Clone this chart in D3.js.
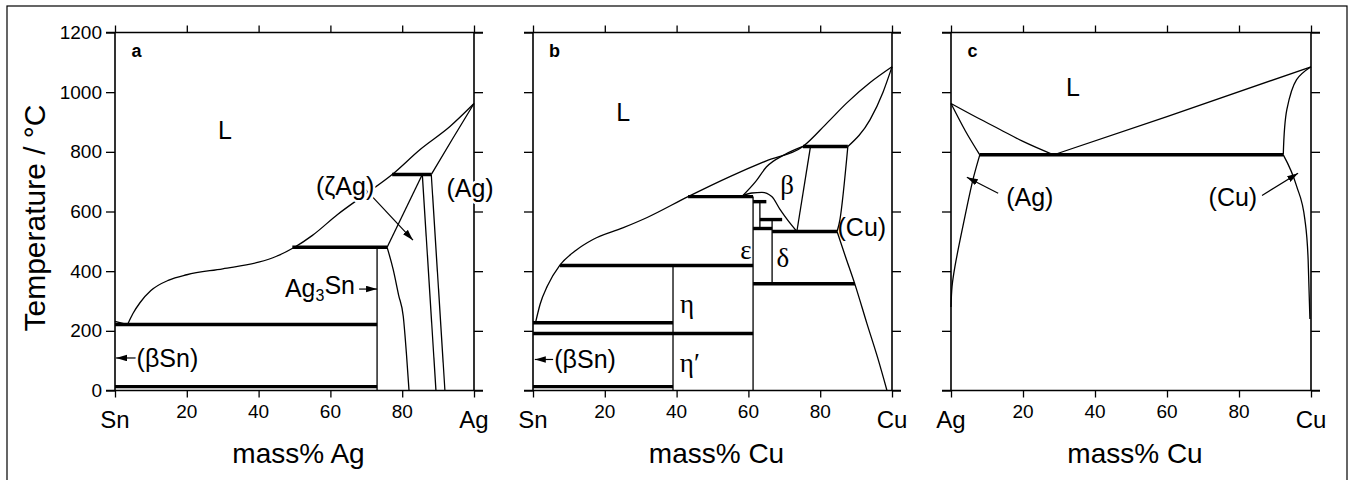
<!DOCTYPE html>
<html>
<head>
<meta charset="utf-8">
<script src="https://cdn.jsdelivr.net/npm/d3@7"></script>
<style>
  body { margin: 0; background: #fff; }
  svg text { font-family: "Liberation Sans", Arial, Helvetica, sans-serif; fill: #000; }
  svg text.greek { font-family: "Liberation Serif", "Times New Roman", serif; }
</style>
</head>
<body>
<svg id="chart" width="1349" height="480"></svg>
<script>
// ---------- data (composition in mass%, temperature in °C) ----------
const xTicks = [0, 20, 40, 60, 80, 100];
const yTicks = [0, 200, 400, 600, 800, 1000, 1200];
const panelIds = ['a', 'b', 'c'];
const leftElements = ['Sn', 'Sn', 'Ag'];
const rightElements = ['Ag', 'Cu', 'Cu'];
const xTitles = ['mass% Ag', 'mass% Cu', 'mass% Cu'];

// panel a : Sn-Ag
const aLiqSn = [[0, 232], [3.5, 221]];
const aLiq = [[3.5, 221], [5, 258], [7, 295], [10, 335], [15, 370], [20, 388], [30, 408], [40, 430],
  [45, 450], [50, 480], [55, 520], [62, 590], [70, 660], [77.2, 724], [85, 808], [93.3, 885], [100, 962]];
const aAgSolidus = [[88.1, 724], [94, 843], [100, 962]];
const aZetaLeft = [[85.6, 724], [75.8, 480]];
const aZetaSolvus = [[75.8, 480], [77.5, 405], [79, 320], [80.3, 248], [81.2, 120], [81.9, 0]];
const aZetaRight = [[85.6, 724], [89.4, 0]];
const aAgSolvus = [[88.1, 724], [91.9, 0]];
const aAg3Sn = [[73, 480], [73, 0]];
const aTies = [[221, 0, 73], [13, 0, 73], [480, 49.4, 75.8], [724, 77.2, 88.1]];
const aLabels = [['L', 30.6, 873], ['(ζAg)', 64.1, 684], ['(Ag)', 98.9, 677], ['Ag_3Sn', 57.1, 344], ['(βSn)', 14.6, 109]];
const aArrows = [[68.2, 694, 83, 504], [68, 340, 73, 340], [6.1, 109, 0.3, 109]];

// panel b : Sn-Cu
const bLiqSn = [[0, 232], [0.7, 227]];
const bLiq = [[0.7, 227], [2, 290], [4, 350], [7.5, 420], [12, 470], [16.7, 506], [25, 545], [31.8, 580],
  [43.2, 650], [55, 718], [65, 770], [75.2, 818], [82, 898], [87.5, 965], [94, 1033], [100, 1085]];
const bCuSolidus = [[87.7, 818], [93.9, 908], [97.5, 1000], [100, 1085]];
const bBetaSolidus = [[58.5, 654], [62, 700], [65, 749], [70, 790], [75.2, 818]];
const bGammaDome = [[58.5, 654], [61, 662], [63.8, 664], [66.5, 650], [68.8, 607], [71, 570], [73.5, 533]];
const bBetaLeft = [[73.5, 533], [77.3, 818]];
const bBetaRight = [[87.7, 818], [85.5, 573], [84.7, 533]];
const bCuSolvus = [[84.7, 533], [87, 450], [89.7, 355], [93, 225], [96, 110], [98.6, 0]];
const bEps = [[61.3, 650], [61.3, 0]];
const bEps2 = [[63.2, 633], [63.2, 543]];
const bDelta = [[66.6, 573], [66.6, 358]];
const bEta = [[39, 419], [39, 0]];
const bTies = [[227, 0, 39], [191, 0, 61.3], [13, 0, 39], [419, 7.5, 61.3], [650, 43.2, 61.3],
  [818, 75.2, 87.7], [533, 66.6, 84.7], [358, 61.3, 89.7], [633, 61.3, 65], [573, 63.2, 69.4], [543, 61.3, 66.6]];
const bLabels = [['L', 25.1, 934], ['β', 70.8, 690], ['ε', 59.3, 471], ['δ', 69.6, 447], ['(Cu)', 91.6, 548],
  ['η', 42.9, 293], ['η′', 43.7, 94], ['(βSn)', 14.5, 104]];
const bArrows = [[5.6, 104, 0.5, 104]];

// panel c : Ag-Cu
const cLiqAg = [[0, 962], [7.2, 915], [13.6, 875], [20, 835], [28.5, 790]];
const cLiqCu = [[28.5, 790], [60, 918], [100, 1085]];
const cAgSolidus = [[0, 962], [4, 870], [8, 790]];
const cAgSolvus = [[8, 790], [6.1, 707], [3.3, 550], [1.1, 416], [0.3, 350], [0, 280]];
const cCuSolidus = [[100, 1085], [96, 1042], [93.3, 942], [92.3, 790]];
const cCuSolvus = [[92.3, 790], [96, 685], [98.3, 573], [99.2, 440], [99.7, 240]];
const cTies = [[790, 8, 92.3]];
const cLabels = [['L', 33.9, 1017], ['(Ag)', 21.9, 648], ['(Cu)', 78.3, 648]];
const cArrows = [[13.1, 661, 4.4, 715], [86.4, 654, 96.4, 728]];

const panelCurves = [
  [aLiqSn, aLiq, aAgSolidus, aZetaLeft, aZetaSolvus, aZetaRight, aAgSolvus, aAg3Sn],
  [bLiqSn, bLiq, bCuSolidus, bBetaSolidus, bGammaDome, bBetaLeft, bBetaRight, bCuSolvus, bEps, bEps2, bDelta, bEta],
  [cLiqAg, cLiqCu, cAgSolidus, cAgSolvus, cCuSolidus, cCuSolvus]
];
const panelTies = [aTies, bTies, cTies];
const panelLabels = [aLabels, bLabels, cLabels];
const panelArrows = [aArrows, bArrows, cArrows];

// ---------- drawing ----------
const svg = d3.select('#chart');
const panelX = [[115, 474], [533, 892], [951, 1311]];
const yTop = 32.5, yBot = 390.5;

svg.append('rect')
  .attr('x', 7).attr('y', 6).attr('width', 1340).attr('height', 500)
  .attr('fill', 'none').attr('stroke', '#000').attr('stroke-width', 1.2);

svg.append('defs').append('marker')
  .attr('id', 'head')
  .attr('viewBox', '0 0 10 6')
  .attr('refX', 10).attr('refY', 3)
  .attr('markerWidth', 11).attr('markerHeight', 7)
  .attr('markerUnits', 'userSpaceOnUse')
  .attr('orient', 'auto')
  .append('path').attr('d', 'M0,0L10,3L0,6Z').attr('fill', '#000');

const y = d3.scaleLinear().domain([0, 1200]).range([yBot, yTop]);

// x always rising -> monotone curve, otherwise a centripetal spline
const increasing = pts => pts.every((p, k) => k === 0 || p[0] > pts[k - 1][0]);

panelIds.forEach((id, i) => {
  const [x0, x1] = panelX[i];
  const x = d3.scaleLinear().domain([0, 100]).range([x0, x1]);
  const g = svg.append('g');

  // axes on all four sides, ticks pointing out
  const axes = [
    [d3.axisBottom(x).tickValues(xTicks).tickSize(7), `translate(0,${yBot})`],
    [d3.axisTop(x).tickValues(xTicks).tickSize(7), `translate(0,${yTop})`],
    [d3.axisLeft(y).tickValues(yTicks).tickSize(9), `translate(${x0},0)`],
    [d3.axisRight(y).tickValues(yTicks).tickSize(9), `translate(${x1},0)`]
  ];
  axes.forEach(([ax, tr]) => {
    const a = g.append('g').attr('transform', tr).call(ax.tickFormat(''));
    a.select('.domain').remove();
    a.selectAll('line').attr('stroke', '#000').attr('stroke-width', 1.3);
  });
  g.append('path')
    .attr('d', `M${x0 - 9},${yTop}H${x1 + 9}M${x0 - 9},${yBot}H${x1 + 9}M${x0},${yTop}V${yBot}M${x1},${yTop}V${yBot}`)
    .attr('fill', 'none').attr('stroke', '#000').attr('stroke-width', 1.6);

  // x tick labels
  g.selectAll('.xnum').data(xTicks.slice(1, -1)).enter().append('text')
    .attr('x', d => x(d)).attr('y', yBot + 21).attr('dy', '0.35em')
    .attr('text-anchor', 'middle').style('font-size', '19px')
    .text(d => d);
  g.selectAll('.xend').data([[0, leftElements[i]], [100, rightElements[i]]]).enter().append('text')
    .attr('x', d => x(d[0])).attr('y', yBot + 29).attr('dy', '0.35em')
    .attr('text-anchor', 'middle').style('font-size', '24px')
    .text(d => d[1]);
  g.append('text')
    .attr('x', (x0 + x1) / 2 + 4).attr('y', 453).attr('dy', '0.35em')
    .attr('text-anchor', 'middle').style('font-size', '28px')
    .text(xTitles[i]);

  if (i === 0) {
    g.selectAll('.ynum').data(yTicks).enter().append('text')
      .attr('x', x0 - 13).attr('y', d => y(d)).attr('dy', '0.35em')
      .attr('text-anchor', 'end').style('font-size', '19px')
      .text(d => d);
  }

  // phase boundaries
  const smooth = d3.line().x(d => x(d[0])).y(d => y(d[1])).curve(d3.curveMonotoneX);
  const spline = d3.line().x(d => x(d[0])).y(d => y(d[1])).curve(d3.curveCatmullRom.alpha(0.5));
  g.selectAll('.curve').data(panelCurves[i]).enter().append('path')
    .attr('d', d => increasing(d) ? smooth(d) : spline(d))
    .attr('fill', 'none').attr('stroke', '#000').attr('stroke-width', 1.3);

  g.selectAll('.tie').data(panelTies[i]).enter().append('path')
    .attr('d', d => `M${x(d[1])},${y(d[0])}H${x(d[2])}`)
    .attr('stroke', '#000').attr('stroke-width', 3.4);

  g.selectAll('.arrow').data(panelArrows[i]).enter().append('path')
    .attr('d', d => `M${x(d[0])},${y(d[1])}L${x(d[2])},${y(d[3])}`)
    .attr('stroke', '#000').attr('stroke-width', 1.2)
    .attr('marker-end', 'url(#head)');

  // phase labels
  const lab = g.selectAll('.lab').data(panelLabels[i]).enter().append('text')
    .attr('class', d => /^[βεδη]/.test(d[0]) ? 'greek' : null)
    .attr('x', d => x(d[1])).attr('y', d => y(d[2])).attr('dy', '0.35em')
    .attr('text-anchor', 'middle')
    .style('font-size', d => /^[βεδη]/.test(d[0]) ? '27px' : '25px');
  if (i === 0) {
    lab.attr('stroke', '#fff').attr('stroke-width', 5).attr('paint-order', 'stroke');
  }
  lab.each(function (d) {
    const t = d3.select(this);
    const parts = d[0].split('_');
    if (parts.length === 1) { t.text(d[0]); return; }
    t.append('tspan').text(parts[0]);
    t.append('tspan').attr('dy', '0.3em').style('font-size', '16px').text(parts[1][0]);
    t.append('tspan').attr('dy', '-0.3em').text(parts[1].slice(1));
  });

  g.append('text')
    .attr('x', x(6)).attr('y', y(1140)).attr('dy', '0.35em')
    .attr('text-anchor', 'middle')
    .style('font-size', '18px').style('font-weight', 'bold')
    .text(id);
});

svg.append('text')
  .attr('transform', 'translate(34,218) rotate(-90)')
  .attr('dy', '0.35em')
  .attr('text-anchor', 'middle').style('font-size', '30px')
  .text('Temperature / °C');
</script>
</body>
</html>
